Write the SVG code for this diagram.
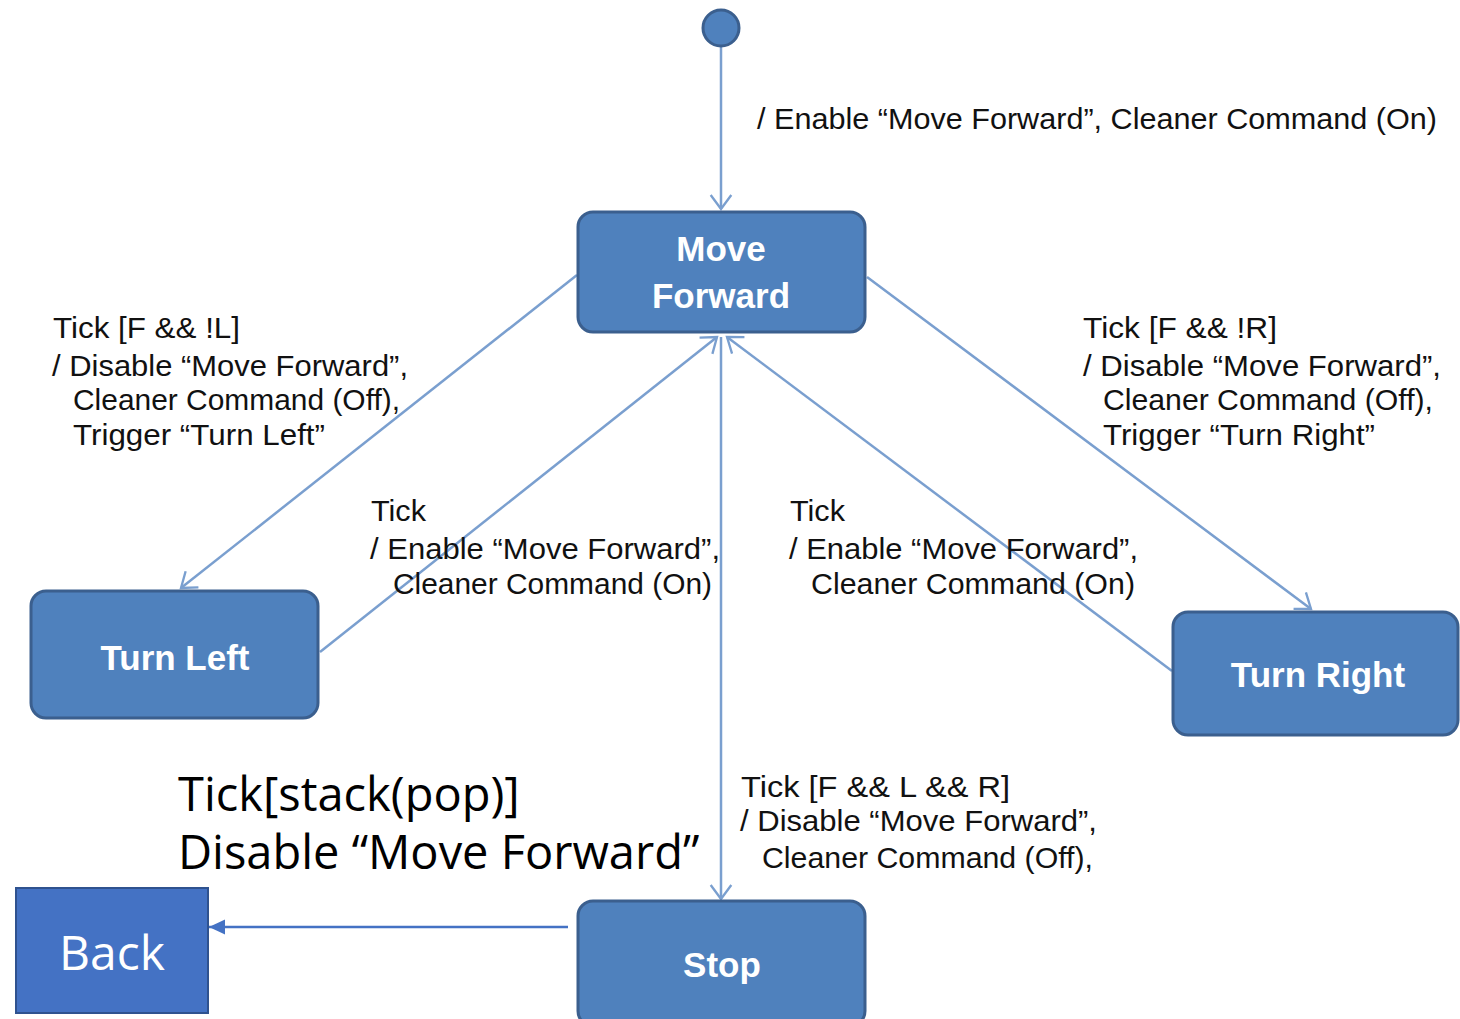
<svg xmlns="http://www.w3.org/2000/svg" width="1460" height="1019" viewBox="0 0 1460 1019">
<style>
.state{fill:#4f81bd;stroke:#3b5f8e;stroke-width:3}
.stxt{font-family:"Liberation Sans",Arial,sans-serif;font-weight:bold;font-size:35px;fill:#ffffff;text-anchor:middle}
.lbl{font-family:"Liberation Sans",Arial,sans-serif;font-size:30px;fill:#111111}
.big{font-family:"Open Sans","Noto Sans",sans-serif;font-size:47px;fill:#000000}
.conn{fill:none;stroke:#7a9fcf;stroke-width:2.5}
</style>
<defs>
<marker id="v" markerUnits="userSpaceOnUse" markerWidth="30" markerHeight="30" viewBox="-16 -15 32 30" refX="0" refY="0" orient="auto">
<path d="M-15,-11 L0,0 L-15,11" fill="none" stroke="#7a9fcf" stroke-width="2.5"/>
</marker>
<marker id="tri" markerUnits="userSpaceOnUse" markerWidth="20" markerHeight="20" viewBox="-17 -10 20 20" refX="0" refY="0" orient="auto">
<path d="M-16,-7.5 L0,0 L-16,7.5 Z" fill="#4472c4"/>
</marker>
</defs>
<rect width="1460" height="1019" fill="#ffffff"/>
<g id="connectors">
<line class="conn" x1="721" y1="47" x2="721" y2="209" marker-end="url(#v)"/>
<line class="conn" x1="577" y1="275" x2="181" y2="588" marker-end="url(#v)"/>
<line class="conn" x1="320" y1="652" x2="717" y2="337" marker-end="url(#v)"/>
<line class="conn" x1="867" y1="277" x2="1311" y2="609" marker-end="url(#v)"/>
<line class="conn" x1="1172" y1="671" x2="727" y2="337" marker-end="url(#v)"/>
<line class="conn" x1="721" y1="337" x2="721" y2="899" marker-end="url(#v)"/>
<line x1="568" y1="927" x2="209" y2="927" stroke="#4472c4" stroke-width="2.5" marker-end="url(#tri)"/>
</g>
<g id="initial">
<circle class="state" cx="721" cy="28" r="18"/>
</g>
<g id="move-forward">
<rect class="state" x="578" y="212" width="287" height="120" rx="15"/>
<text class="stxt" x="721" y="261">Move</text>
<text class="stxt" x="721" y="308">Forward</text>
</g>
<g id="turn-left">
<rect class="state" x="31" y="591" width="287" height="127" rx="15"/>
<text class="stxt" x="175" y="670">Turn Left</text>
</g>
<g id="turn-right">
<rect class="state" x="1173" y="612" width="285" height="123" rx="15"/>
<text class="stxt" x="1318" y="687">Turn Right</text>
</g>
<g id="stop">
<rect class="state" x="578" y="901" width="287" height="125" rx="15"/>
<text class="stxt" x="722" y="977">Stop</text>
</g>
<g id="back">
<rect x="16" y="888" width="192" height="125" fill="#4472c4" stroke="#2f528f" stroke-width="2"/>
<text x="112" y="970" font-family="Open Sans, Noto Sans, sans-serif" font-size="48" fill="#ffffff" text-anchor="middle">Back</text>
</g>
<g id="labels">
<text class="lbl" x="757" y="129" textLength="680" lengthAdjust="spacingAndGlyphs">/ Enable “Move Forward”, Cleaner Command (On)</text>
<text class="lbl" x="53" y="338" textLength="187" lengthAdjust="spacingAndGlyphs">Tick [F &amp;&amp; !L]</text>
<text class="lbl" x="52" y="376" textLength="356" lengthAdjust="spacingAndGlyphs">/ Disable “Move Forward”,</text>
<text class="lbl" x="73" y="410" textLength="327" lengthAdjust="spacingAndGlyphs">Cleaner Command (Off),</text>
<text class="lbl" x="73" y="445" textLength="252" lengthAdjust="spacingAndGlyphs">Trigger “Turn Left”</text>
<text class="lbl" x="1083" y="338" textLength="194" lengthAdjust="spacingAndGlyphs">Tick [F &amp;&amp; !R]</text>
<text class="lbl" x="1083" y="376" textLength="358" lengthAdjust="spacingAndGlyphs">/ Disable “Move Forward”,</text>
<text class="lbl" x="1103" y="410" textLength="330" lengthAdjust="spacingAndGlyphs">Cleaner Command (Off),</text>
<text class="lbl" x="1103" y="445" textLength="272" lengthAdjust="spacingAndGlyphs">Trigger “Turn Right”</text>
<text class="lbl" x="371" y="521" textLength="55" lengthAdjust="spacingAndGlyphs">Tick</text>
<text class="lbl" x="370" y="559" textLength="350" lengthAdjust="spacingAndGlyphs">/ Enable “Move Forward”,</text>
<text class="lbl" x="393" y="594" textLength="319" lengthAdjust="spacingAndGlyphs">Cleaner Command (On)</text>
<text class="lbl" x="790" y="521" textLength="55" lengthAdjust="spacingAndGlyphs">Tick</text>
<text class="lbl" x="789" y="559" textLength="349" lengthAdjust="spacingAndGlyphs">/ Enable “Move Forward”,</text>
<text class="lbl" x="811" y="594" textLength="324" lengthAdjust="spacingAndGlyphs">Cleaner Command (On)</text>
<text class="lbl" x="741" y="797" textLength="269" lengthAdjust="spacingAndGlyphs">Tick [F &amp;&amp; L &amp;&amp; R]</text>
<text class="lbl" x="740" y="831" textLength="357" lengthAdjust="spacingAndGlyphs">/ Disable “Move Forward”,</text>
<text class="lbl" x="762" y="868" textLength="331" lengthAdjust="spacingAndGlyphs">Cleaner Command (Off),</text>
<text class="big" x="178" y="811">Tick[stack(pop)]</text>
<text class="big" x="178" y="869">Disable “Move Forward”</text>
</g>
</svg>
